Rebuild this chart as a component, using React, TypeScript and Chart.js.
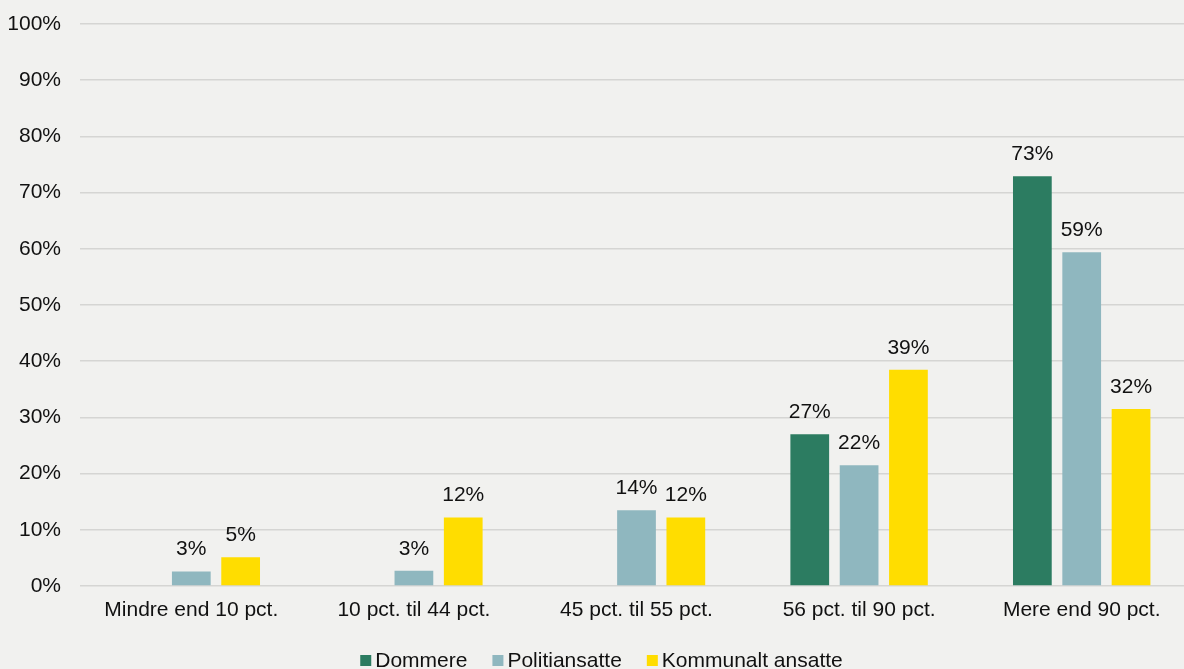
import React, { useEffect, useRef } from "react";
import { Chart, registerables } from "chart.js";

Chart.register(...registerables);

const categories = [
  "Mindre end 10 pct.",
  "10 pct. til 44 pct.",
  "45 pct. til 55 pct.",
  "56 pct. til 90 pct.",
  "Mere end 90 pct.",
];
const dommere: (number | null)[] = [null, null, null, 27.0, 72.9];
const politiansatte: (number | null)[] = [2.6, 2.7, 13.5, 21.5, 59.4];
const kommunalt: (number | null)[] = [5.1, 12.2, 12.2, 38.5, 31.5];
const seriesNames = ["Dommere", "Politiansatte", "Kommunalt ansatte"];
const seriesColors = ["#2c7c61", "#8fb7bf", "#ffdd00"];
const yTicks = [0, 10, 20, 30, 40, 50, 60, 70, 80, 90, 100];

const FONT = "'Liberation Sans', Arial, sans-serif";
const FS = 21;
const TEXT = "#111111";
const BG = "#f1f1ef";

const labelPlugin = {
  id: "valueLabels",
  afterDatasetsDraw(chart: any) {
    const ctx = chart.ctx;
    ctx.save();
    ctx.font = `${FS}px ${FONT}`;
    ctx.fillStyle = TEXT;
    ctx.textAlign = "center";
    ctx.textBaseline = "alphabetic";
    chart.data.datasets.forEach((ds: any, i: number) => {
      const meta = chart.getDatasetMeta(i);
      meta.data.forEach((el: any, j: number) => {
        const v = ds.data[j];
        if (v === null || v === undefined) return;
        ctx.fillText(Math.round(v) + "%", el.x, el.y - 16);
      });
    });
    ctx.restore();
  },
};

const legendPlugin = {
  id: "customLegend",
  afterDraw(chart: any) {
    const ctx = chart.ctx;
    ctx.save();
    ctx.font = `${FS}px ${FONT}`;
    ctx.textBaseline = "middle";
    ctx.textAlign = "left";
    const box = 11;
    const gapText = 4;
    const gapItem = 25;
    const widths = chart.data.datasets.map((ds: any) => box + gapText + ctx.measureText(ds.label).width);
    const total = widths.reduce((a: number, b: number) => a + b, 0) + gapItem * (widths.length - 1);
    let x = 601.5 - total / 2;
    const cy = 660.5;
    chart.data.datasets.forEach((ds: any, i: number) => {
      ctx.fillStyle = ds.backgroundColor;
      ctx.fillRect(x, cy - box / 2, box, box);
      ctx.fillStyle = TEXT;
      ctx.fillText(ds.label, x + box + gapText, cy + 1);
      x += widths[i] + gapItem;
    });
    ctx.restore();
  },
};

export default function App() {
  const ref = useRef<HTMLCanvasElement | null>(null);
  useEffect(() => {
    if (!ref.current) return;
    Chart.defaults.font.family = FONT;
    Chart.defaults.font.size = FS;
    Chart.defaults.color = TEXT;
    const data = [dommere, politiansatte, kommunalt];
    const chart = new Chart(ref.current, {
      type: "bar",
      data: {
        labels: categories,
        datasets: data.map((d, i) => ({
          label: seriesNames[i],
          data: d,
          backgroundColor: seriesColors[i],
          borderWidth: 0,
          categoryPercentage: 0.665,
          barPercentage: 0.785,
        })),
      },
      options: {
        animation: false,
        responsive: false,
        maintainAspectRatio: false,
        devicePixelRatio: 1,
        layout: { padding: { top: 24, left: 9, right: 1, bottom: 43 } },
        scales: {
          x: {
            grid: { display: false, drawTicks: false },
            border: { display: false },
            ticks: { padding: 12, color: TEXT, font: { size: FS, family: FONT }, maxRotation: 0 },
            afterFit: (axis: any) => {
              axis.height = 40;
              axis.paddingLeft = 0;
              axis.paddingRight = 0;
            },
          },
          y: {
            min: 0,
            max: 100,
            afterBuildTicks: (axis: any) => {
              axis.ticks = yTicks.map((v) => ({ value: v }));
            },
            afterFit: (axis: any) => {
              axis.width = 71;
              axis.paddingTop = 0;
              axis.paddingBottom = 0;
            },
            grid: { color: "#d5d5d3", lineWidth: 1.5, drawTicks: false },
            border: { display: false },
            ticks: {
              padding: 19,
              color: TEXT,
              font: { size: FS, family: FONT },
              callback: (v: any) => v + "%",
            },
          },
        },
        plugins: {
          legend: { display: false },
          tooltip: { enabled: false },
        },
      },
      plugins: [labelPlugin, legendPlugin],
    });
    return () => chart.destroy();
  }, []);
  return (
    <div
      style={{
        position: "fixed",
        left: 0,
        top: 0,
        width: 1184,
        height: 669,
        overflow: "hidden",
        background: BG,
      }}
    >
      <canvas ref={ref} width={1194} height={669} style={{ display: "block", width: 1194, height: 669 }} />
    </div>
  );
}
